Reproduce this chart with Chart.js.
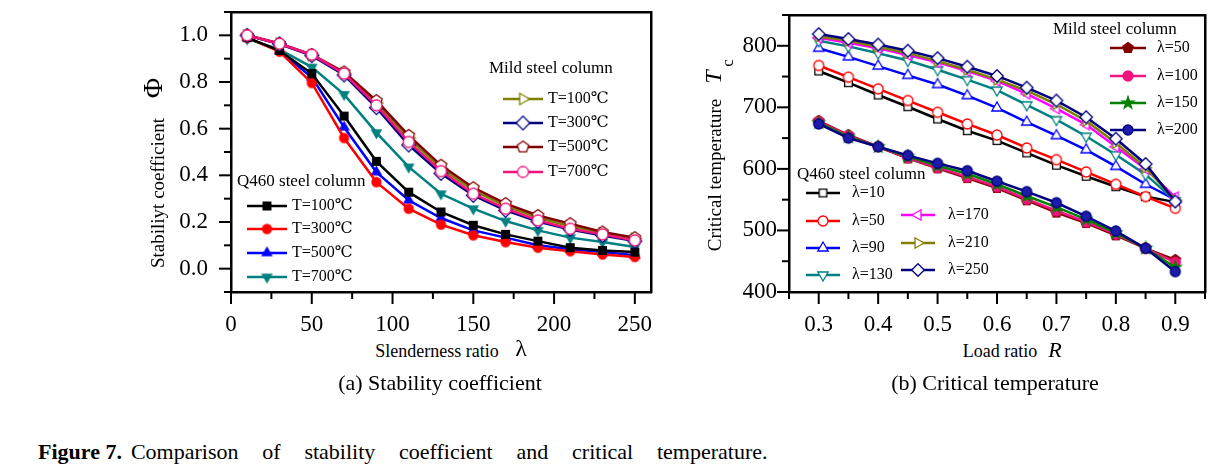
<!DOCTYPE html>
<html lang="en">
<head>
<meta charset="UTF-8">
<title>Figure 7 - Stability coefficient and critical temperature</title>
<script src="https://cdn.jsdelivr.net/npm/chart.js@4"></script>
<style>
  body { margin: 0; background: #fff; color: #000; font-family: "Liberation Serif", "DejaVu Serif", serif; }
  #page { position: relative; width: 1226px; height: 470px; overflow: hidden; }
  canvas { position: absolute; top: 0; }
  .t { position: absolute; white-space: nowrap; line-height: 1; transform: translate(-50%, -50%); }
  .v { transform: translate(-50%, -50%) rotate(-90deg); }
  .i { font-style: italic; }
</style>
</head>
<body>
<div id="page">
  <canvas id="phiChart" width="680" height="340" style="left:0"></canvas>
  <canvas id="tcChart" width="546" height="340" style="left:680px"></canvas>

  <div class="t v" style="left:157px;top:193px;font-size:19px">Stabiliyt coefficient</div>
  <div class="t v" style="left:153px;top:88px;font-size:28px">Φ</div>
  <div class="t" style="left:437px;top:351px;font-size:18px">Slenderness ratio</div>
  <div class="t" style="left:521px;top:348px;font-size:24px">λ</div>

  <div class="t v" style="left:714px;top:175px;font-size:19px">Critical temperature</div>
  <div class="t v i" style="left:713px;top:77px;font-size:24px">T</div>
  <div class="t v" style="left:727px;top:63px;font-size:17px">c</div>
  <div class="t" style="left:1000px;top:351px;font-size:18px">Load ratio</div>
  <div class="t i" style="left:1055px;top:350px;font-size:22px">R</div>

  <div class="t" style="left:440px;top:383px;font-size:22px">(a) Stability coefficient</div>
  <div class="t" style="left:995px;top:383px;font-size:22px">(b) Critical temperature</div>
  <div style="position:absolute;left:38px;top:441px;font-size:22px;line-height:1;white-space:nowrap"><b>Figure 7.</b><span style="margin-left:9px;word-spacing:18.3px">Comparison of stability coefficient and critical temperature.</span></div>
</div>

<script>
// (a) stability coefficient vs slenderness ratio
const lambda = [10, 30, 50, 70, 90, 110, 130, 150, 170, 190, 210, 230, 250];
const q460T100 = [0.99, 0.935, 0.836, 0.654, 0.46, 0.328, 0.243, 0.186, 0.147, 0.118, 0.09, 0.078, 0.071];
const q460T300 = [0.99, 0.93, 0.796, 0.56, 0.371, 0.257, 0.189, 0.143, 0.114, 0.09, 0.075, 0.061, 0.05];
const q460T500 = [0.99, 0.933, 0.82, 0.606, 0.414, 0.293, 0.217, 0.164, 0.133, 0.10, 0.083, 0.071, 0.057];
const q460T700 = [0.985, 0.94, 0.864, 0.747, 0.583, 0.436, 0.321, 0.257, 0.204, 0.164, 0.133, 0.114, 0.093];
const mildT100 = [1.0, 0.964, 0.915, 0.838, 0.71, 0.56, 0.43, 0.335, 0.268, 0.218, 0.182, 0.152, 0.128];
const mildT300 = [1.0, 0.963, 0.913, 0.83, 0.69, 0.53, 0.408, 0.314, 0.25, 0.202, 0.168, 0.142, 0.118];
const mildT500 = [1.0, 0.965, 0.917, 0.843, 0.72, 0.571, 0.443, 0.347, 0.279, 0.228, 0.193, 0.157, 0.133];
const mildT700 = [1.0, 0.964, 0.917, 0.836, 0.70, 0.543, 0.418, 0.321, 0.257, 0.207, 0.171, 0.147, 0.121];
const lambdaTicks = [0, 50, 100, 150, 200, 250];
const phiTicks = [0, 0.2, 0.4, 0.6, 0.8, 1.0];

// (b) critical temperature vs load ratio
const loadRatio = [0.3, 0.35, 0.4, 0.45, 0.5, 0.55, 0.6, 0.65, 0.7, 0.75, 0.8, 0.85, 0.9];
const q460L10 = [759, 740, 720, 701, 681, 662, 646, 626, 606, 588, 571, 555, 546];
const q460L50 = [768, 749, 730, 711, 692, 673, 655, 634, 615, 595, 575, 555, 536];
const q460L90 = [796, 782, 767, 752, 737, 719, 699, 676, 654, 631, 604, 575, 550];
const q460L130 = [808, 799, 788, 776, 761, 745, 728, 704, 680, 653, 623, 591, 548];
const q460L170 = [813, 805, 796, 785, 773, 759, 743, 722, 698, 672, 636, 600, 554];
const q460L210 = [815, 808, 798, 788, 775, 761, 745, 727, 705, 678, 642, 602, 549];
const q460L250 = [819, 811, 802, 792, 780, 766, 751, 732, 711, 684, 649, 608, 547];
const mildL50 = [678, 655, 636, 617, 601, 585, 569, 549, 529, 512, 492, 471, 452];
const mildL100 = [677, 654, 636, 618, 602, 587, 571, 551, 532, 514, 494, 471, 448];
const mildL150 = [675, 652, 636, 620, 605, 592, 575, 556, 538, 518, 496, 471, 440];
const mildL200 = [673, 650, 636, 622, 609, 597, 580, 563, 545, 523, 499, 471, 433];
const loadTicks = [0.3, 0.4, 0.5, 0.6, 0.7, 0.8, 0.9];
const tempTicks = [400, 500, 600, 700, 800];

const SERIF = '"Liberation Serif", "DejaVu Serif", serif';

// marker glyphs drawn once on small canvases, used as point styles
function marker(shape, fill, stroke, r) {
  const s = Math.ceil(2 * r + 6);
  const c = document.createElement('canvas');
  c.width = s; c.height = s;
  const g = c.getContext('2d');
  const cx = s / 2, cy = s / 2;
  const poly = (n, rot, rad, inner) => {
    const k = inner ? 2 * n : n;
    for (let i = 0; i < k; i++) {
      const a = rot + i * 2 * Math.PI / k;
      const rr = inner && i % 2 ? inner : rad;
      const px = cx + rr * Math.cos(a), py = cy + rr * Math.sin(a);
      i ? g.lineTo(px, py) : g.moveTo(px, py);
    }
    g.closePath();
  };
  g.beginPath();
  if (shape === 'square') g.rect(cx - r * 0.85, cy - r * 0.85, r * 1.7, r * 1.7);
  else if (shape === 'circle') g.arc(cx, cy, r, 0, 2 * Math.PI);
  else if (shape === 'up') poly(3, -Math.PI / 2, r * 1.2);
  else if (shape === 'down') poly(3, Math.PI / 2, r * 1.2);
  else if (shape === 'left') poly(3, Math.PI, r * 1.2);
  else if (shape === 'right') poly(3, 0, r * 1.2);
  else if (shape === 'diamond') poly(4, -Math.PI / 2, r * 1.25);
  else if (shape === 'pentagon') poly(5, -Math.PI / 2, r * 1.1);
  else if (shape === 'star') poly(5, -Math.PI / 2, r * 1.25, r * 0.5);
  g.fillStyle = fill;
  g.fill();
  g.lineWidth = 1.3;
  g.strokeStyle = stroke;
  g.stroke();
  return c;
}

function line(label, xs, ys, color, pt) {
  return {
    label: label,
    data: xs.map((x, i) => ({ x: x, y: ys[i] })),
    borderColor: color,
    backgroundColor: color,
    borderWidth: 2.5,
    pointStyle: pt,
    pointRadius: 6,
    tension: 0
  };
}

function axis(min, max, ticks, fmt, size, pad) {
  return {
    type: 'linear', min: min, max: max,
    grid: { display: false, drawTicks: false },
    border: { display: false },
    afterBuildTicks: s => { s.ticks = ticks.map(v => ({ value: v })); },
    afterFit: s => {
      // fixed axis band, and no extra label padding pushing the plot box around
      if (s.isHorizontal()) s.height = size; else s.width = size;
      s.paddingTop = 0; s.paddingBottom = 0; s.paddingLeft = 0; s.paddingRight = 0;
    },
    ticks: {
      padding: pad, color: '#000', autoSkip: false, maxRotation: 0,
      font: { family: SERIF, size: 23, lineHeight: 1 },
      callback: fmt
    }
  };
}

function steps(min, max, step) {
  const out = [];
  for (let i = 0; ; i++) {
    const v = min + i * step;
    if (v > max + 1e-9) break;
    out.push(v);
  }
  return out;
}

const framePlugin = {
  id: 'frame',
  afterDraw(chart, args, o) {
    const ctx = chart.ctx;
    const a = chart.chartArea;
    const sx = chart.scales.x, sy = chart.scales.y;
    const major = (v, list) => list.some(m => Math.abs(m - v) < 1e-6);
    const L = Math.round(a.left), R = Math.round(a.right);
    const T = Math.round(a.top), B = Math.round(a.bottom);
    ctx.save();
    ctx.setLineDash([]);
    ctx.globalAlpha = 1;
    ctx.fillStyle = '#000';
    // tick marks, outward on bottom and left
    steps(sx.min, sx.max, o.xMinor).forEach(v => {
      const p = sx.getPixelForValue(v);
      ctx.fillRect(p - 1, B, 2, major(v, o.xMajor) ? 12 : 7);
    });
    steps(sy.min, sy.max, o.yMinor).forEach(v => {
      const p = sy.getPixelForValue(v);
      const len = major(v, o.yMajor) ? 12 : 7;
      ctx.fillRect(L - len, p - 1, len, 2);
    });
    // box
    ctx.fillRect(L - 1, T - 1, R - L + 2, 2.5);
    ctx.fillRect(L - 1, B - 1, R - L + 2, 2.5);
    ctx.fillRect(L - 1, T - 1, 2.5, B - T + 2);
    ctx.fillRect(R - 1, T - 1, 2.5, B - T + 2);

    ctx.textBaseline = 'middle';
    ctx.textAlign = 'left';
    o.legends.forEach(g => {
      ctx.font = '17px ' + SERIF;
      ctx.fillStyle = '#000';
      if (g.title) ctx.fillText(g.title, g.x, g.y);
      g.items.forEach(it => {
        const ds = chart.data.datasets[it.i];
        ctx.strokeStyle = ds.borderColor;
        ctx.lineWidth = 2.5;
        ctx.beginPath();
        ctx.moveTo(it.x - g.half, it.y);
        ctx.lineTo(it.x + g.half, it.y);
        ctx.stroke();
        const m = ds.pointStyle;
        ctx.drawImage(m, it.x - m.width / 2, it.y - m.height / 2);
        ctx.font = '16px ' + SERIF;
        ctx.fillStyle = '#000';
        ctx.fillText(ds.label, it.x + g.gap, it.y);
      });
    });
    ctx.restore();
  }
};

const BLACK = '#000000', RED = '#ff0000', BLUE = '#0000ff', TEAL = '#008080';
const OLIVE = '#808000', NAVY = '#000080', DARKRED = '#800000', PINK = '#f0147c';
const MAGENTA = '#ff00ff', GREEN = '#008000';

new Chart(document.getElementById('phiChart'), {
  type: 'line',
  data: {
    datasets: [
      line('T=700℃', lambda, mildT700, PINK, marker('circle', '#fff', PINK, 5.5)),
      line('T=500℃', lambda, mildT500, DARKRED, marker('pentagon', '#fff', DARKRED, 5.5)),
      line('T=300℃', lambda, mildT300, NAVY, marker('diamond', '#fff', NAVY, 5.5)),
      line('T=100℃', lambda, mildT100, OLIVE, marker('right', '#fff', OLIVE, 5.5)),
      line('T=100℃', lambda, q460T100, BLACK, marker('square', BLACK, BLACK, 4.5)),
      line('T=300℃', lambda, q460T300, RED, marker('circle', RED, RED, 4.5)),
      line('T=500℃', lambda, q460T500, BLUE, marker('up', BLUE, BLUE, 4.5)),
      line('T=700℃', lambda, q460T700, TEAL, marker('down', TEAL, TEAL, 4.5))
    ]
  },
  options: {
    responsive: false,
    animation: false,
    devicePixelRatio: 1,
    layout: { autoPadding: false, padding: { top: 12, right: 29, left: 0, bottom: 0 } },
    scales: {
      x: axis(0, 260, lambdaTicks, v => String(v), 48, 21),
      y: axis(-0.1, 1.1, phiTicks, v => v.toFixed(1), 231, 23)
    },
    plugins: {
      legend: { display: false },
      tooltip: { enabled: false },
      frame: {
        xMinor: 25, xMajor: lambdaTicks, yMinor: 0.1, yMajor: phiTicks,
        legends: [
          { title: 'Mild steel column', x: 489, y: 69, half: 20, gap: 25,
            items: [{ i: 3, x: 523, y: 99 }, { i: 2, x: 523, y: 123 }, { i: 1, x: 523, y: 147 }, { i: 0, x: 523, y: 172 }] },
          { title: 'Q460 steel column', x: 237, y: 182, half: 20, gap: 25,
            items: [{ i: 4, x: 267, y: 206 }, { i: 5, x: 267, y: 229 }, { i: 6, x: 267, y: 253 }, { i: 7, x: 267, y: 277 }] }
        ]
      }
    }
  },
  plugins: [framePlugin]
});

new Chart(document.getElementById('tcChart'), {
  type: 'line',
  data: {
    datasets: [
      line('λ=200', loadRatio, mildL200, NAVY, marker('circle', '#1c1ca8', NAVY, 5)),
      line('λ=150', loadRatio, mildL150, GREEN, marker('star', GREEN, GREEN, 5)),
      line('λ=100', loadRatio, mildL100, PINK, marker('circle', PINK, PINK, 5)),
      line('λ=50', loadRatio, mildL50, DARKRED, marker('pentagon', DARKRED, DARKRED, 5)),
      line('λ=250', loadRatio, q460L250, NAVY, marker('diamond', '#fff', NAVY, 5)),
      line('λ=210', loadRatio, q460L210, OLIVE, marker('right', '#fff', OLIVE, 5)),
      line('λ=170', loadRatio, q460L170, MAGENTA, marker('left', '#fff', MAGENTA, 5)),
      line('λ=130', loadRatio, q460L130, TEAL, marker('down', '#fff', TEAL, 5)),
      line('λ=90', loadRatio, q460L90, BLUE, marker('up', '#fff', BLUE, 5)),
      line('λ=50', loadRatio, q460L50, RED, marker('circle', '#fff', RED, 5)),
      line('λ=10', loadRatio, q460L10, BLACK, marker('square', '#fff', BLACK, 4.5))
    ]
  },
  options: {
    responsive: false,
    animation: false,
    devicePixelRatio: 1,
    layout: { autoPadding: false, padding: { top: 15, right: 21, left: 0, bottom: 0 } },
    scales: {
      x: axis(0.25, 0.95, loadTicks, v => v.toFixed(1), 48, 21),
      y: axis(400, 850, tempTicks, v => String(v), 109, 12)
    },
    plugins: {
      legend: { display: false },
      tooltip: { enabled: false },
      frame: {
        xMinor: 0.05, xMajor: loadTicks, yMinor: 50, yMajor: tempTicks,
        legends: [
          { title: 'Q460 steel column', x: 117, y: 175, half: 17, gap: 29,
            items: [{ i: 10, x: 143, y: 193 }, { i: 9, x: 143, y: 221 }, { i: 8, x: 143, y: 248 }, { i: 7, x: 143, y: 275 }] },
          { title: '', x: 0, y: 0, half: 17, gap: 30,
            items: [{ i: 6, x: 238, y: 215 }, { i: 5, x: 238, y: 243 }, { i: 4, x: 238, y: 270 }] },
          { title: 'Mild steel column', x: 373, y: 30, half: 18, gap: 29,
            items: [{ i: 3, x: 448, y: 48 }, { i: 2, x: 448, y: 76 }, { i: 1, x: 448, y: 103 }, { i: 0, x: 448, y: 130 }] }
        ]
      }
    }
  },
  plugins: [framePlugin]
});
</script>
</body>
</html>
